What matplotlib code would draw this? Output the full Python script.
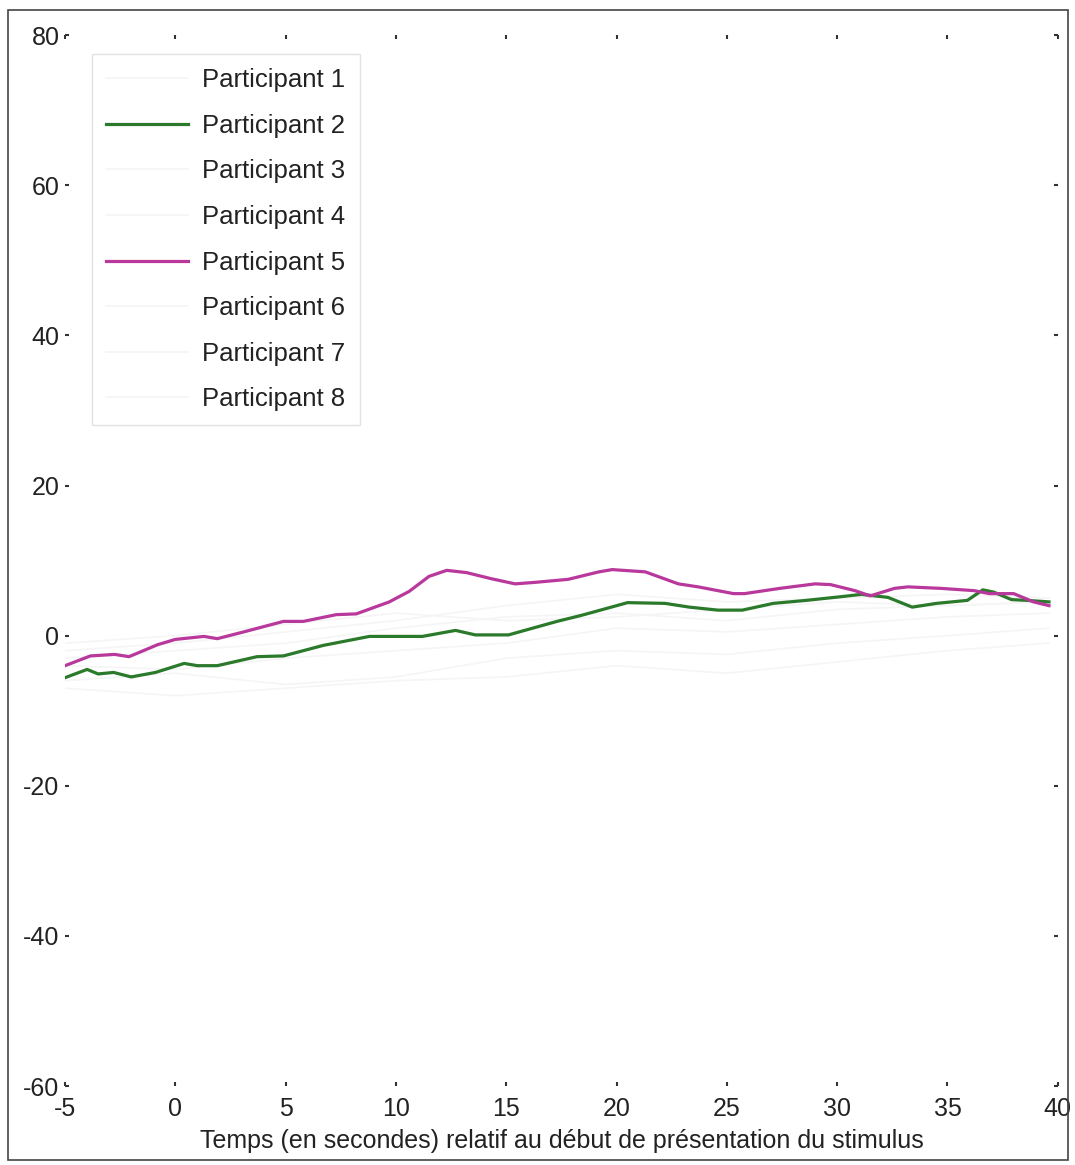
import numpy as np
import matplotlib
matplotlib.use("Agg")
import matplotlib.pyplot as plt
from matplotlib.patches import Rectangle

plt.rcParams['font.family'] = ['Liberation Sans', 'DejaVu Sans']
plt.rcParams['axes.unicode_minus'] = False

# participant 2 (vert)
p2_t = [-5, -4.0, -3.5, -2.8, -2.0, -0.9, 0.4, 1.0, 1.9, 3.7, 4.9, 6.7, 8.8, 11.2, 12.7,
        13.6, 15.1, 17.3, 18.4, 20.5, 22.2, 23.3, 24.6, 25.7, 27.1, 28.6, 30.2, 31.1,
        32.3, 33.4, 34.5, 35.9, 36.6, 37.1, 37.9, 38.6, 39.6]
p2_v = [-5.6, -4.5, -5.1, -4.9, -5.5, -4.9, -3.7, -4.0, -4.0, -2.8, -2.7, -1.3, -0.1, -0.1, 0.7,
        0.1, 0.1, 1.9, 2.7, 4.4, 4.3, 3.8, 3.4, 3.4, 4.3, 4.7, 5.2, 5.5,
        5.1, 3.8, 4.3, 4.7, 6.1, 5.8, 4.8, 4.7, 4.5]

# participant 5 (magenta)
p5_t = [-5, -3.85, -2.75, -2.1, -0.8, 0, 1.3, 1.9, 3.1, 4.9, 5.8, 7.3, 8.2, 9.7, 10.6, 11.5,
        12.3, 13.2, 14.3, 15.4, 16.3, 17.8, 19.2, 19.8, 21.3, 22.8, 23.7, 25.3, 25.8, 27.4,
        29.0, 29.7, 30.8, 31.5, 32.6, 33.2, 34.7, 36.2, 36.9, 38.0, 38.9, 39.6]
p5_v = [-4.0, -2.7, -2.5, -2.8, -1.2, -0.5, -0.1, -0.4, 0.5, 1.9, 1.9, 2.8, 2.9, 4.5, 5.9, 7.9,
        8.7, 8.4, 7.6, 6.9, 7.1, 7.5, 8.5, 8.8, 8.5, 6.9, 6.5, 5.6, 5.6, 6.3,
        6.9, 6.8, 6.0, 5.3, 6.3, 6.5, 6.3, 6.0, 5.6, 5.6, 4.5, 4.0]

# autres participants (traces presque invisibles sur la figure)
faint_t = [-5, 0, 5, 10, 15, 20, 25, 30, 35, 39.6]
p1_v = [-3.0, -2.0, -1.0, 1.0, 2.5, 3.0, 2.0, 3.5, 4.0, 4.5]
p3_v = [-2.0, -1.0, 0.5, 2.0, 4.0, 5.5, 4.5, 5.0, 5.5, 5.0]
p4_v = [-4.0, -4.5, -3.0, -2.0, -1.0, 1.0, 0.5, 1.5, 2.5, 3.0]
p6_v = [-6.0, -5.0, -6.5, -5.5, -3.0, -2.0, -2.5, -1.0, 0.0, 1.0]
p7_v = [-1.0, 0.0, 1.5, 3.0, 2.0, 2.5, 3.5, 4.5, 4.0, 4.5]
p8_v = [-7.0, -8.0, -7.0, -6.0, -5.5, -4.0, -5.0, -3.5, -2.0, -1.0]

labels = ["Participant %d" % i for i in range(1, 9)]
x_ticks = [-5, 0, 5, 10, 15, 20, 25, 30, 35, 40]
y_ticks = [-60, -40, -20, 0, 20, 40, 60, 80]

fig = plt.figure(figsize=(10.75, 11.65), dpi=100)
ax = fig.add_axes([0.0605, 0.0678, 0.9235, 0.902])

faint = '#f5f5f5'
series = [
    (faint_t, p1_v, faint),
    (p2_t, p2_v, '#2b7a2b'),
    (faint_t, p3_v, faint),
    (faint_t, p4_v, faint),
    (p5_t, p5_v, '#b8389c'),
    (faint_t, p6_v, faint),
    (faint_t, p7_v, faint),
    (faint_t, p8_v, faint),
]
for (t, v, c), lab in zip(series, labels):
    lw = 2.3 if c != faint else 1.2
    z = 3 if c != faint else 1
    ax.plot(t, v, color=c, lw=lw, label=lab, zorder=z)

ax.set_xlim(-5, 40)
ax.set_ylim(-60, 80)
ax.set_xticks(x_ticks)
ax.set_yticks(y_ticks)
for s in ax.spines.values():
    s.set_visible(False)
ax.tick_params(direction='in', length=3, width=1.5, color='#333333',
               top=True, right=True, labelsize=18, pad=4, labelcolor='#222222')
ax.tick_params(axis='x', pad=8)
ax.set_xlabel("Temps (en secondes) relatif au début de présentation du stimulus",
              fontsize=18, labelpad=6, color='#222222')

leg = ax.legend(loc='upper left', bbox_to_anchor=(0.027, 0.982), fontsize=18.5,
                handlelength=3.2, labelspacing=0.84, handletextpad=0.55,
                fancybox=False, framealpha=1, borderpad=0.55, borderaxespad=0)
leg.get_frame().set_edgecolor('#e2e2e2')
leg.get_frame().set_linewidth(1.0)
for txt in leg.get_texts():
    txt.set_color('#222222')

# cadre autour de la figure
fig.patches.append(Rectangle((0.0074, 0.004), 0.986, 0.987, transform=fig.transFigure,
                             fill=False, edgecolor='#444444', lw=1.2))

fig.savefig("out.png", dpi=100)
